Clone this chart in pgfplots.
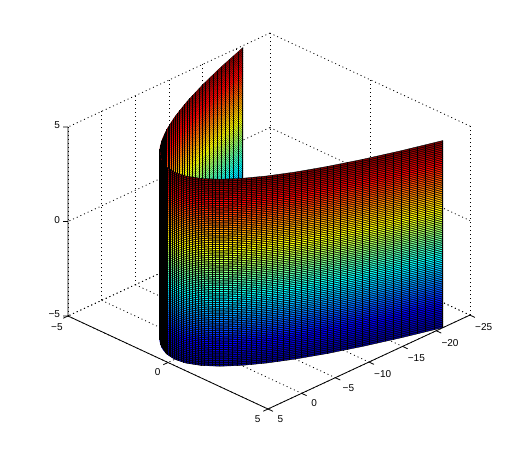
\documentclass[border=0pt]{standalone}
\usepackage{fontspec}
\setmainfont{Liberation Sans}
\usepackage{pgfplots}
\usepackage{pgfplotstable}
\pgfplotsset{compat=1.18}
\pgfplotstableread{
x y z
-5.0 -21 -0.05
-4.9 -20.01 -0.05
-4.8 -19.04 -0.05
-4.7 -18.09 -0.05
-4.6 -17.16 -0.05
-4.5 -16.25 -0.05
-4.4 -15.36 -0.05
-4.3 -14.49 -0.05
-4.2 -13.64 -0.05
-4.1 -12.81 -0.05
-4.0 -12 -0.05
-3.9 -11.21 -0.05
-3.8 -10.44 -0.05
-3.7 -9.69 -0.05
-3.6 -8.96 -0.05
-3.5 -8.25 -0.05
-3.4 -7.56 -0.05
-3.3 -6.89 -0.05
-3.2 -6.24 -0.05
-3.1 -5.61 -0.05
-3.0 -5 -0.05
-2.9 -4.41 -0.05
-2.8 -3.84 -0.05
-2.7 -3.29 -0.05
-2.6 -2.76 -0.05
-2.5 -2.25 -0.05
-2.4 -1.76 -0.05
-2.3 -1.29 -0.05
-2.2 -0.84 -0.05
-2.1 -0.41 -0.05
-2.0 0 -0.05
-1.9 0.39 -0.05
-1.8 0.76 -0.05
-1.7 1.11 -0.05
-1.6 1.44 -0.05
-1.5 1.75 -0.05
}\backcurve
\pgfplotstableread{
x y z
-1.5 1.75 -0.05
-1.4 2.04 -0.05
-1.3 2.31 -0.05
-1.2 2.56 -0.05
-1.1 2.79 -0.05
-1.0 3 -0.05
-0.9 3.19 -0.05
-0.8 3.36 -0.05
-0.7 3.51 -0.05
-0.6 3.64 -0.05
-0.5 3.75 -0.05
-0.4 3.84 -0.05
-0.3 3.91 -0.05
-0.2 3.96 -0.05
-0.1 3.99 -0.05
0 4 -0.05
0.1 3.99 -0.05
0.2 3.96 -0.05
0.3 3.91 -0.05
0.4 3.84 -0.05
0.5 3.75 -0.05
0.6 3.64 -0.05
0.7 3.51 -0.05
0.8 3.36 -0.05
0.9 3.19 -0.05
1.0 3 -0.05
1.1 2.79 -0.05
1.2 2.56 -0.05
1.3 2.31 -0.05
1.4 2.04 -0.05
1.5 1.75 -0.05
1.6 1.44 -0.05
1.7 1.11 -0.05
1.8 0.76 -0.05
1.9 0.39 -0.05
2.0 0 -0.05
2.1 -0.41 -0.05
2.2 -0.84 -0.05
2.3 -1.29 -0.05
2.4 -1.76 -0.05
2.5 -2.25 -0.05
2.6 -2.76 -0.05
2.7 -3.29 -0.05
2.8 -3.84 -0.05
2.9 -4.41 -0.05
3.0 -5 -0.05
3.1 -5.61 -0.05
3.2 -6.24 -0.05
3.3 -6.89 -0.05
3.4 -7.56 -0.05
3.5 -8.25 -0.05
3.6 -8.96 -0.05
3.7 -9.69 -0.05
3.8 -10.44 -0.05
3.9 -11.21 -0.05
4.0 -12 -0.05
4.1 -12.81 -0.05
4.2 -13.64 -0.05
4.3 -14.49 -0.05
4.4 -15.36 -0.05
4.5 -16.25 -0.05
4.6 -17.16 -0.05
4.7 -18.09 -0.05
4.8 -19.04 -0.05
4.9 -20.01 -0.05
5.0 -21 -0.05
}\frontcurve
\def\vrows{5,15,25,35,45,55,65,75,85,95,105,115,125,135,145,155,165,175,185,195,205,215,225,235,245,255,265,275,285,295,305,315,325,335,345,355,365,375,385,395,405,415,425,435,445,455,465,475,485,495,505,515,525,535,545,555,565,575,585,595,605,615,625,635,645,655,665,675,685,695,705,715,725,735,745,755,765,775,785,795,805,815,825,835,845,855,865,875,885,895,905,915,925,935,945,955,965,975,985,995}
\pgfplotsset{
  colormap={myjet}{rgb255(0)=(0,0,143) rgb255(125)=(0,0,255) rgb255(375)=(0,255,255) rgb255(625)=(255,255,0) rgb255(875)=(255,0,0) rgb255(1000)=(128,0,0)},
  rowline/.style={no marks, line width=1pt, line cap=butt, line join=round},
  colline/.style={draw=none, no marks, error bars/.cd, z dir=both, z fixed=4.95, error mark=none, error bar style={draw=black, line width=1.0pt, line cap=butt}},
  tk/.style={black, line width=0.8pt, no marks},
}
\begin{document}
\begin{tikzpicture}[x=1pt,y=1pt]
\path[use as bounding box] (0,0) rectangle (520,460);
\begin{axis}[
  at={(201.65pt,207.65pt)}, anchor=origin,
  x={(20pt,-9.3pt)}, y={(6.73pt,3.13pt)}, z={(0pt,18.9pt)}, y dir=reverse,
  xmin=-5,xmax=5,ymin=-25,ymax=5,zmin=-5,zmax=5,
  xtick={-5,0,5}, ytick={-25,-20,-15,-10,-5,0,5}, ztick={-5,0,5},
  xticklabels={−5,0,5}, yticklabels={−25,−20,−15,−10,−5,0,5}, zticklabels={−5,0,5},
  tick pos=left,
  grid=major,
  grid style={black, line width=0.8pt, dash pattern=on 1pt off 3pt},
  axis line style={draw=none},
  tick align=outside,
  major tick length=5pt,
  tick style={draw=none},
  tick label style={font=\fontsize{10}{12}\selectfont},
  xticklabel style={xshift=-1pt},
  yticklabel style={xshift=3pt},
  zticklabel style={yshift=3.5pt},
  colormap name=myjet,
  clip=false,
]
\addplot3[tk] coordinates {(-5,5,5) (-5,5,-5) (5,5,-5) (5,-25,-5)};
\pgfplotsinvokeforeach{-5,0,5}{
  \addplot3[tk] coordinates {(#1,5,-5)(#1,5.7,-5)};
  \addplot3[tk] coordinates {(-5,5,#1)(-5.125,5.37,#1)};
}
\pgfplotsinvokeforeach{-25,-20,-15,-10,-5,0,5}{
  \addplot3[tk] coordinates {(5,#1,-5)(5.25,#1,-5)};
}
\addplot3[fill=black, draw=black, line width=0.3pt, no marks] coordinates {
(-5,-21,-5)(-4.5,-16.25,-5)(-4,-12,-5)(-3.5,-8.25,-5)(-3,-5,-5)(-2.5,-2.25,-5)(-2,0,-5)(-1.5,1.75,-5)
(-1.5,1.75,4.9)(-2,0,4.9)(-2.5,-2.25,4.9)(-3,-5,4.9)(-3.5,-8.25,4.9)(-4,-12,4.9)(-4.5,-16.25,4.9)(-5,-21,4.9)} \closedcycle;
\expandafter\pgfplotsinvokeforeach\expandafter{\vrows}{
  \addplot3[rowline, color of colormap={#1}, draw=.] table[x=x,y=y,z expr=(#1/100-5)*0.99-0.05] {\backcurve};
}
\addplot3[colline] table[x=x,y=y,z=z] {\backcurve};
\addplot3[fill=black, draw=black, line width=0.3pt, no marks] coordinates {
(-1.5,1.75,-5)(-1,3,-5)(-0.5,3.75,-5)(0,4,-5)(0.5,3.75,-5)(1,3,-5)(1.5,1.75,-5)(2,0,-5)(2.5,-2.25,-5)(3,-5,-5)(3.5,-8.25,-5)(4,-12,-5)(4.5,-16.25,-5)(5,-21,-5)
(5,-21,4.9)(4.5,-16.25,4.9)(4,-12,4.9)(3.5,-8.25,4.9)(3,-5,4.9)(2.5,-2.25,4.9)(2,0,4.9)(1.5,1.75,4.9)(1,3,4.9)(0.5,3.75,4.9)(0,4,4.9)(-0.5,3.75,4.9)(-1,3,4.9)(-1.5,1.75,4.9)} \closedcycle;
\expandafter\pgfplotsinvokeforeach\expandafter{\vrows}{
  \addplot3[rowline, color of colormap={#1}, draw=.] table[x=x,y=y,z expr=(#1/100-5)*0.99-0.05] {\frontcurve};
}
\addplot3[colline] table[x=x,y=y,z=z] {\frontcurve};
\end{axis}
\end{tikzpicture}
\end{document}
